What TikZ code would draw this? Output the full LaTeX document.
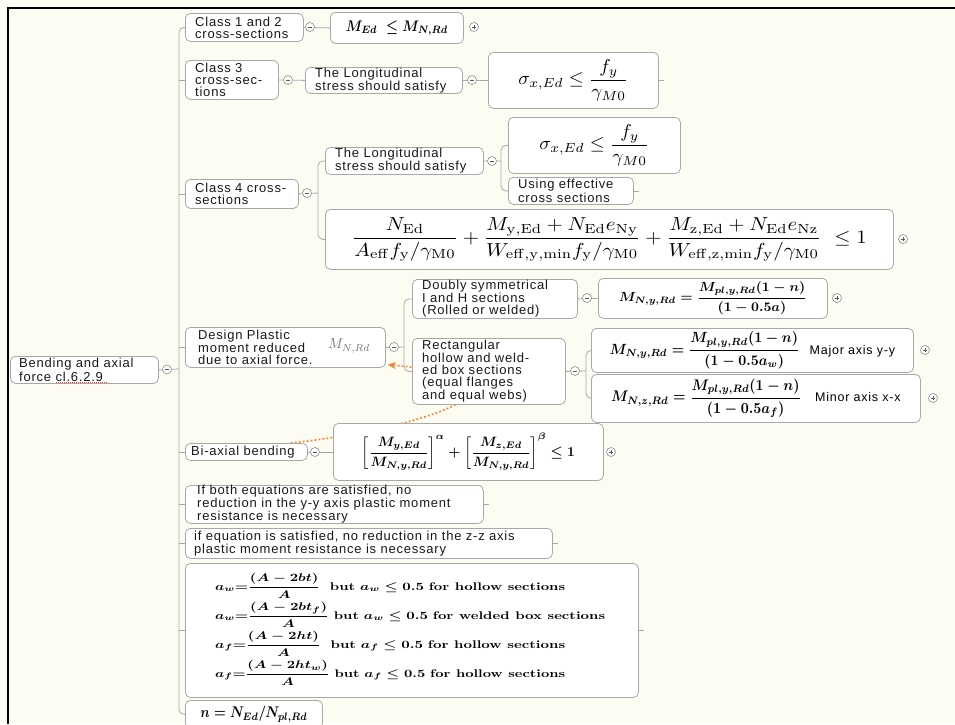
\documentclass[tikz,border=0pt]{standalone}
\usepackage[no-math]{fontspec}
\usepackage{amsmath}
\usepackage{graphicx}
\usetikzlibrary{arrows.meta}
\newfontfamily\lsans{Liberation Sans}[LetterSpace=6]
\definecolor{bgc}{RGB}{253,252,243}
\definecolor{edgec}{RGB}{168,168,168}
\definecolor{relc}{RGB}{240,128,48}
\pgfdeclarelayer{bgl}
\pgfdeclarelayer{edges}
\pgfsetlayers{bgl,edges,main}
\tikzset{
  box/.style={draw=edgec,fill=white,rounded corners=5pt,line width=0.8pt,inner sep=0pt,anchor=north west},
  txt/.style={font=\lsans\fontsize{13}{12}\selectfont,align=left,inner sep=0pt,anchor=west,text=black!90},
  conn/.style={draw=edgec,line width=0.8pt},
  btn/.style={circle,draw=black!45,fill=white,minimum size=9pt,inner sep=0pt,line width=0.6pt},
  bminus/.style={btn,path picture={\draw[line width=0.9pt,black!65] ([xshift=-2.3pt]path picture bounding box.center)--([xshift=2.3pt]path picture bounding box.center);}},
  bplus/.style={btn,path picture={\draw[line width=0.9pt,black!65] ([xshift=-2.3pt]path picture bounding box.center)--([xshift=2.3pt]path picture bounding box.center) ([yshift=-2.3pt]path picture bounding box.center)--([yshift=2.3pt]path picture bounding box.center);}},
  relline/.style={draw=relc,line width=1.6pt,dash pattern=on 1.8pt off 2.2pt},
}
\begin{document}
\begin{tikzpicture}[x=1pt,y=-1pt]
\useasboundingbox (0,0) rectangle (955,724);
\begin{pgfonlayer}{bgl}
\fill[bgc] (0,0) rectangle (955,724);
\end{pgfonlayer}

% root
\node[box,minimum width=148pt,minimum height=27pt] (root) at (10,356) {};
\node[txt] (roott) at ([xshift=9pt]root.west) {Bending and axial\\force cl.6.2.9};
\draw[red!80,line width=0.9pt,dash pattern=on 1pt off 1pt] (56,382) -- (108,382);

% class 1 and 2
\node[box,minimum width=118pt,minimum height=28pt] (c12) at (185,13) {};
\node[txt] (c12t) at ([xshift=10pt]c12.west) {Class 1 and 2\\cross-sections};
\node[box,minimum width=133pt,minimum height=31pt] (f12) at (330,12) {\resizebox*{102pt}{15pt}{\boldmath$M_{Ed}\ \le M_{N,Rd}$}};

% class 3
\node[box,minimum width=93pt,minimum height=39pt] (c3) at (185,60) {};
\node[txt] (c3t) at ([xshift=10pt]c3.west) {Class 3\\cross-sec-\\tions};
\node[box,minimum width=157pt,minimum height=26pt] (l3) at (305,67) {};
\node[txt] (l3t) at ([xshift=10pt]l3.west) {The Longitudinal\\stress should satisfy};
\node[box,minimum width=170pt,minimum height=56pt] (s3) at (488,52) {\resizebox*{110pt}{42pt}{$\sigma_{x,Ed}\le\dfrac{f_y}{\gamma_{M0}}$}};

% class 4
\node[box,minimum width=113pt,minimum height=29pt] (c4) at (185,179) {};
\node[txt] (c4t) at ([xshift=10pt]c4.west) {Class 4 cross-\\sections};
\node[box,minimum width=158pt,minimum height=27pt] (l4) at (325,147) {};
\node[txt] (l4t) at ([xshift=10pt]l4.west) {The Longitudinal\\stress should satisfy};
\node[box,minimum width=172pt,minimum height=56pt] (s4) at (508,117) {\resizebox*{110pt}{42pt}{$\sigma_{x,Ed}\le\dfrac{f_y}{\gamma_{M0}}$}};
\node[box,minimum width=125pt,minimum height=27pt] (us) at (508,177) {};
\node[txt] (ust) at ([xshift=10pt]us.west) {Using effective\\cross sections};
\node[box,minimum width=568pt,minimum height=60pt] (big) at (325,209) {\resizebox*{515pt}{44pt}{$\dfrac{N_{\mathrm{Ed}}}{A_{\mathrm{eff}}f_{\mathrm{y}}/\gamma_{\mathrm{M0}}}+\dfrac{M_{\mathrm{y,Ed}}+N_{\mathrm{Ed}}e_{\mathrm{Ny}}}{W_{\mathrm{eff,y,min}}f_{\mathrm{y}}/\gamma_{\mathrm{M0}}}+\dfrac{M_{\mathrm{z,Ed}}+N_{\mathrm{Ed}}e_{\mathrm{Nz}}}{W_{\mathrm{eff,z,min}}f_{\mathrm{y}}/\gamma_{\mathrm{M0}}}\ \le 1$}};

% design plastic
\node[box,minimum width=200pt,minimum height=40pt] (dp) at (185,327) {};
\node[txt] (dpt) at ([xshift=13pt]dp.west) {Design Plastic\\moment reduced\\due to axial force.};
\node[text=black!55,inner sep=0pt] (mnrd) at (349,346) {\resizebox*{42pt}{14pt}{$M_{N,Rd}$}};
\node[box,minimum width=165pt,minimum height=39pt] (dbl) at (412,279) {};
\node[txt] (dblt) at ([xshift=10pt]dbl.west) {Doubly symmetrical\\I and H sections\\(Rolled or welded)};
\node[box,minimum width=229pt,minimum height=40pt] (fd) at (598,278) {\resizebox*{188pt}{33pt}{\boldmath$M_{N,y,Rd}=\dfrac{M_{pl,y,Rd}(1-n)}{(1-0.5a)}$}};
\node[box,minimum width=153pt,minimum height=66pt] (rect) at (412,338) {};
\node[txt] (rectt) at ([xshift=10pt]rect.west) {Rectangular\\hollow and weld-\\ed box sections\\(equal flanges\\and equal webs)};
\node[box,minimum width=322pt,minimum height=44pt] (maj) at (591,328) {\resizebox*{190pt}{37pt}{\boldmath$M_{N,y,Rd}=\dfrac{M_{pl,y,Rd}(1-n)}{(1-0.5a_w)}$}\hspace{10pt}{\lsans\fontsize{12.5}{12}\selectfont Major axis y-y}};
\node[box,minimum width=329pt,minimum height=48pt] (min) at (591,374) {\resizebox*{190pt}{39pt}{\boldmath$M_{N,z,Rd}=\dfrac{M_{pl,y,Rd}(1-n)}{(1-0.5a_f)}$}\hspace{14pt}{\lsans\fontsize{12.5}{12}\selectfont Minor axis x-x}};

% bi-axial
\node[box,minimum width=122pt,minimum height=17pt] (bi) at (185,443) {};
\node[txt] (bit) at ([xshift=6pt]bi.west) {Bi-axial bending};
\node[box,minimum width=270pt,minimum height=57pt] (fbi) at (333,423) {\resizebox*{213pt}{37pt}{\boldmath$\left[\dfrac{M_{y,Ed}}{M_{N,y,Rd}}\right]^{\alpha}+\left[\dfrac{M_{z,Ed}}{M_{N,y,Rd}}\right]^{\beta}\le 1$}};

% notes
\node[box,minimum width=298pt,minimum height=38pt] (ib) at (185,485) {};
\node[txt] (ibt) at ([xshift=12pt]ib.west) {If both equations are satisfied, no\\reduction in the y-y axis plastic moment\\resistance is necessary};
\node[box,minimum width=367pt,minimum height=30pt] (ie) at (185,528) {};
\node[txt] (iet) at ([xshift=9pt]ie.west) {if equation is satisfied, no reduction in the z-z axis\\plastic moment resistance is necessary};

% a_w box
\node[box,minimum width=453pt,minimum height=134pt] (aw) at (185,563) {};
\node[anchor=west,inner sep=0pt] (r1) at (215,586) {\resizebox*{350pt}{25pt}{\boldmath$a_w{=}\dfrac{(A-2bt)}{A}$\ \ \textbf{but} $a_w\le 0.5$ \textbf{for hollow sections}}};
\node[anchor=west,inner sep=0pt] (r2) at (215,615) {\resizebox*{390pt}{25pt}{\boldmath$a_w{=}\dfrac{(A-2bt_f)}{A}$ \textbf{but} $a_w\le 0.5$ \textbf{for welded box sections}}};
\node[anchor=west,inner sep=0pt] (r3) at (215,644) {\resizebox*{350pt}{25pt}{\boldmath$a_f{=}\dfrac{(A-2ht)}{A}$\ \ \textbf{but} $a_f\le 0.5$ \textbf{for hollow sections}}};
\node[anchor=west,inner sep=0pt] (r4) at (215,673) {\resizebox*{350pt}{25pt}{\boldmath$a_f{=}\dfrac{(A-2ht_w)}{A}$ \textbf{but} $a_f\le 0.5$ \textbf{for hollow sections}}};

\node[box,minimum width=137pt,minimum height=28pt] (nb) at (185,700) {\resizebox*{107pt}{16pt}{\boldmath$n=N_{Ed}/N_{pl,Rd}$}};

% connectors
\begin{pgfonlayer}{edges}
\coordinate (tk) at (179,369);
\coordinate (br4) at (318,193);
\coordinate (brl4) at (501,161);
\coordinate (brd) at (404,347);
\coordinate (brr) at (586,371);
\draw[conn,rounded corners=5pt] (c12.west) -- (c12.west -| tk) -- (nb.west -| tk) -- (nb.west);
\draw[conn] (root.east) -- (tk);
\foreach \n in {c3,c4,dp,bi,ib,ie,aw} \draw[conn] (\n.west -| tk) -- (\n.west);
\draw[conn] (c12.east) -- (f12.west);
\draw[conn] (c3.east) -- (l3.west);
\draw[conn] (l3.east) -- (s3.west);
\draw[conn] (c4.east) -- (br4);
\draw[conn,rounded corners=5pt] (l4.west) -| (br4) |- (big.west);
\draw[conn] (l4.east) -- (brl4);
\draw[conn,rounded corners=5pt] (s4.west) -| (brl4) |- (us.west);
\draw[conn] (dp.east) -- (brd);
\draw[conn,rounded corners=5pt] (dbl.west) -| (brd) |- (rect.west);
\draw[conn] (dbl.east) -- (fd.west);
\draw[conn] (rect.east) -- (brr);
\draw[conn,rounded corners=5pt] (maj.west) -| (brr) |- (min.west);
\draw[conn] (bi.east) -- (fbi.west);
\foreach \n in {s3,us,ib,ie,aw} \draw[conn] (\n.east) -- ++(5,0);
\draw[relline,-{Stealth[length=8pt,width=7pt]}] ([xshift=-17pt]bi.north east) .. controls (430,428) and (560,380) .. ([shift={(2,-3)}]dp.south east);
\end{pgfonlayer}

% buttons
\node[bminus] (b0) at (167,369.5) {};
\node[bminus] (b1) at (310,27) {};
\node[bplus] (p1) at (474,27) {};
\node[bminus] (b2) at (288,80) {};
\node[bminus] (b3) at (472,80) {};
\node[bminus] (b4) at (307,193) {};
\node[bminus] (b5) at (492,161) {};
\node[bplus] (p2) at (903,239) {};
\node[bminus] (b6) at (394,347) {};
\node[bminus] (b7) at (587,298) {};
\node[bplus] (p3) at (837,298) {};
\node[bminus] (b8) at (575,371) {};
\node[bplus] (p4) at (925,350) {};
\node[bplus] (p5) at (933,398) {};
\node[bminus] (b9) at (315,452) {};
\node[bplus] (p6) at (611,452) {};

% frame
\draw[line width=2pt] (8,724) -- (8,8) -- (955,8);
\end{tikzpicture}
\end{document}
